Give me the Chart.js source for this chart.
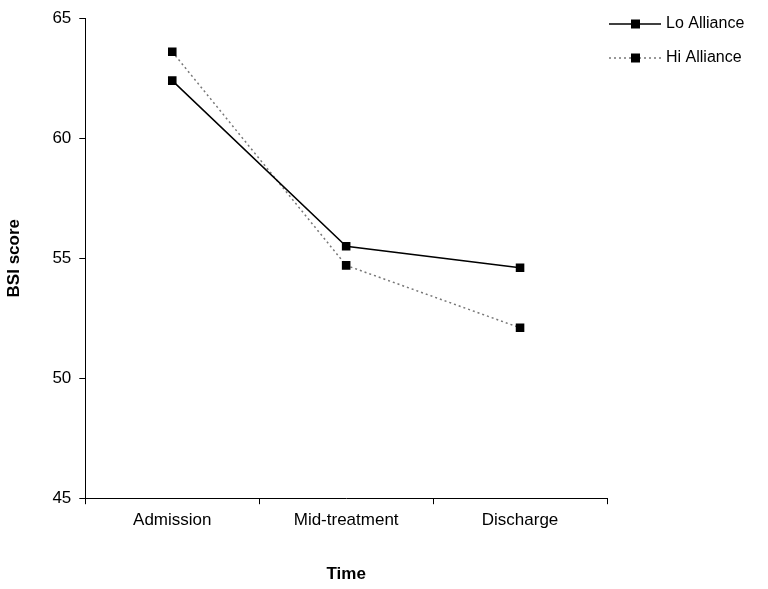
<!DOCTYPE html>
<html><head><script src="https://cdn.jsdelivr.net/npm/chart.js@4"></script>
<style>html,body{margin:0;background:#fff}#w{width:768px;height:589px}</style></head>
<body><div id="w"><canvas id="c"></canvas></div>
<script>
const categories=["Admission","Mid-treatment","Discharge"];
const loAlliance=[62.4,55.5,54.6];
const hiAlliance=[63.6,54.7,52.1];
const seriesNames=["Lo Alliance","Hi Alliance"];
const F="'Liberation Sans', Arial, sans-serif";
const legendPlugin={id:'lg',afterDraw(ch){const c=ch.ctx;c.save();
 const items=[{n:seriesNames[0],d:[]},{n:seriesNames[1],d:[2,3]}];
 items.forEach((it,i)=>{const y=24+i*34;c.strokeStyle=i?'#777':'#000';c.lineWidth=1.3;c.setLineDash(it.d);
 c.beginPath();c.moveTo(609,y);c.lineTo(661,y);c.stroke();c.setLineDash([]);c.fillStyle='#000';c.fillRect(631,y-4.5,9,9);
 c.font="16px "+F;c.textBaseline='middle';c.fillText(it.n,666,y);});c.restore();}};
new Chart(document.getElementById('c'),{type:'line',
data:{labels:categories,datasets:[
{label:seriesNames[0],data:loAlliance,borderColor:'#000',borderWidth:1.5,pointStyle:'rect',pointRadius:5,pointBackgroundColor:'#000',pointBorderColor:'#000',tension:0},
{label:seriesNames[1],data:hiAlliance,borderColor:'#777',borderWidth:1.5,borderDash:[2,3],pointStyle:'rect',pointRadius:5,pointBackgroundColor:'#000',pointBorderColor:'#000',tension:0}]},
options:{responsive:true,maintainAspectRatio:false,animation:false,
layout:{padding:{left:0,right:161,top:0,bottom:0}},
plugins:{legend:{display:false},tooltip:{enabled:false}},
scales:{x:{offset:true,grid:{display:true,drawOnChartArea:false,color:'#000',tickLength:6,offset:true},border:{color:'#000'},
 ticks:{color:'#000',font:{family:F,size:17},padding:6},title:{display:true,text:'Time',color:'#000',font:{family:F,size:17,weight:'bold'},padding:{top:28}}},
y:{min:45,max:65,grid:{drawOnChartArea:false,color:'#000',tickLength:6},border:{color:'#000'},
 ticks:{stepSize:5,color:'#000',font:{family:F,size:17},padding:8},title:{display:true,text:'BSI score',color:'#000',font:{family:F,size:17,weight:'bold'},padding:{bottom:20}}}}},
plugins:[legendPlugin]});
</script></body></html>
